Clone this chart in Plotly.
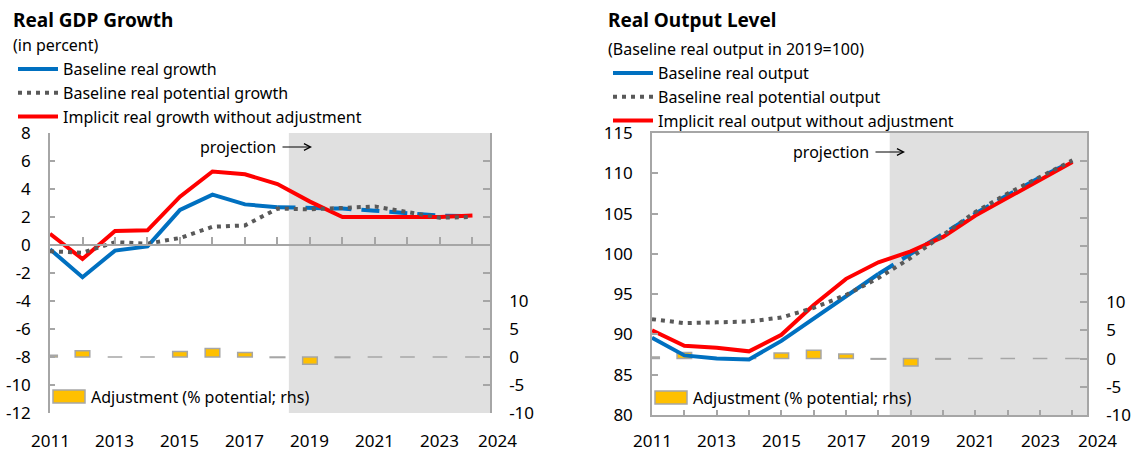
import plotly.graph_objects as go

W, H = 1136, 451

years = list(range(2011, 2025))
last_hist_year = 2018
projection_start = 2018.35

# Real GDP growth (in percent)
growth_baseline = [-0.3, -2.3, -0.4, -0.1, 2.5, 3.6, 2.9, 2.7, 2.65, 2.6, 2.45, 2.25, 2.1, 2.05]
growth_potential = [-0.45, -0.55, 0.2, 0.1, 0.5, 1.3, 1.4, 2.6, 2.55, 2.65, 2.75, 2.35, 1.95, 2.0]
growth_no_adj = [0.8, -1.0, 1.0, 1.05, 3.45, 5.25, 5.05, 4.35, 3.1, 2.0, 2.0, 2.0, 2.0, 2.1]

# Real output level (baseline real output in 2019 = 100)
level_baseline = [89.6, 87.4, 87.0, 86.9, 89.2, 92.0, 94.75, 97.5, 100.0, 102.5, 105.0, 107.3, 109.5, 111.5]
level_potential = [91.9, 91.4, 91.5, 91.6, 92.1, 93.3, 94.9, 97.0, 99.5, 102.4, 105.2, 107.5, 109.6, 111.6]
level_no_adj = [90.5, 88.6, 88.35, 87.9, 89.95, 93.65, 96.9, 98.95, 100.3, 102.1, 104.75, 107.0, 109.25, 111.4]

# Adjustment (% potential; rhs) - same series in both panels
adjustment = [0.3, 1.1, 0.0, 0.0, 1.0, 1.5, 0.8, -0.1, -1.3, -0.1, 0.0, 0.0, 0.0, 0.0]

# tick labels
year_labels = ['2011', '2013', '2015', '2017', '2019', '2021', '2023', '2024']
growth_ticks = [-12, -10, -8, -6, -4, -2, 0, 2, 4, 6, 8]
level_ticks = [80, 85, 90, 95, 100, 105, 110, 115]
rhs_ticks = [-10, -5, 0, 5, 10, 15, 20, 25, 30, 35, 40]
rhs_labels = ['-10', '-5', '0', '5', '10', '', '', '', '', '', '']

growth_names = ['Baseline real growth', 'Baseline real potential growth',
                'Implicit real growth without adjustment']
level_names = ['Baseline real output', 'Baseline real potential output',
               'Implicit real output without adjustment']

BLUE = '#0070C0'
RED = '#FF0000'
DOTS = '#595959'
AXIS = '#A6A6A6'
SHADE = '#E0E0E0'
GOLD = '#FFC000'
FONT = 'Noto Sans'


def px(x):
    return x / W


def py(y):
    return 1 - y / H


fig = go.Figure()


def add_panel(xa, ya_bar, ya_line, legend, base, potential, no_adj, names):
    hist = years.index(last_hist_year) + 1
    # adjustment bars first so the lines sit on top
    fig.add_trace(go.Bar(
        x=years, y=adjustment, xaxis=xa, yaxis=ya_bar, width=0.45,
        marker=dict(color=GOLD, line=dict(color=AXIS, width=1.5)),
        showlegend=False, name='Adjustment (% potential; rhs)'
    ))
    fig.add_trace(go.Scatter(
        x=years[:hist], y=base[:hist], mode='lines', name=names[0],
        line=dict(color=BLUE, width=4), xaxis=xa, yaxis=ya_line,
        legend=legend, legendrank=1
    ))
    # projection part of the baseline is dashed
    fig.add_trace(go.Scatter(
        x=years[hist - 1:], y=base[hist - 1:], mode='lines', name=names[0],
        line=dict(color=BLUE, width=4, dash='18px,10px'), xaxis=xa, yaxis=ya_line,
        legend=legend, showlegend=False
    ))
    fig.add_trace(go.Scatter(
        x=years, y=no_adj, mode='lines', name=names[2],
        line=dict(color=RED, width=4), xaxis=xa, yaxis=ya_line,
        legend=legend, legendrank=3
    ))
    fig.add_trace(go.Scatter(
        x=years, y=potential, mode='lines', name=names[1],
        line=dict(color=DOTS, width=4, dash='4px,5px'), xaxis=xa, yaxis=ya_line,
        legend=legend, legendrank=2
    ))


add_panel('x', 'y', 'y2', 'legend', growth_baseline, growth_potential, growth_no_adj, growth_names)
add_panel('x2', 'y3', 'y4', 'legend2', level_baseline, level_potential, level_no_adj, level_names)

axis_style = dict(showgrid=False, zeroline=False, showline=True, linecolor=AXIS, linewidth=1.5,
                  ticks='inside', tickcolor=AXIS, tickwidth=1.5, automargin=False,
                  tickfont=dict(size=17, color='black'))

left_dom_y = [py(413), py(133)]
right_dom_y = [py(415), py(133)]
zero_pos = left_dom_y[0] + (0 - (-12)) / 20 * (left_dom_y[1] - left_dom_y[0])

fig.update_layout(
    xaxis=dict(domain=[px(50), px(490)], range=[2011, 2024.54], anchor='free', position=zero_pos,
               tickvals=years, showticklabels=False, ticklen=7, **axis_style),
    yaxis=dict(domain=left_dom_y, range=[-10, 40], side='right', anchor='x',
               tickvals=rhs_ticks, ticktext=rhs_labels, ticklen=7, ticklabelstandoff=14, **axis_style),
    yaxis2=dict(overlaying='y', side='left', anchor='x', range=[-12, 8],
                tickvals=growth_ticks, ticktext=[str(v) for v in growth_ticks],
                ticklen=5, ticklabelstandoff=14, **axis_style),
    xaxis2=dict(domain=[px(652), px(1087)], range=[2011, 2024.45], anchor='y3', mirror=True,
                tickvals=years, showticklabels=False, ticklen=5, **axis_style),
    yaxis3=dict(domain=right_dom_y, range=[-10, 40], side='right', anchor='x2',
                tickvals=rhs_ticks, ticktext=rhs_labels, ticklen=7, ticklabelstandoff=14, **axis_style),
    yaxis4=dict(overlaying='y3', side='left', anchor='x2', range=[80, 115],
                tickvals=level_ticks, ticktext=[str(v) for v in level_ticks],
                ticklen=6, ticklabelstandoff=14, **axis_style),
)

legend_style = dict(xanchor='left', yanchor='top', bgcolor='rgba(0,0,0,0)',
                    font=dict(family=FONT, size=16, color='black'),
                    traceorder='normal', tracegroupgap=0, itemwidth=40)
fig.update_layout(
    legend=dict(x=px(13), y=py(52), **legend_style),
    legend2=dict(x=px(608), y=py(56), **legend_style),
)

# projection shading
fig.add_shape(type='rect', xref='x', yref='paper', x0=projection_start, x1=2024.54,
              y0=left_dom_y[0], y1=left_dom_y[1], fillcolor=SHADE, line_width=0, layer='below')
fig.add_shape(type='rect', xref='x2', yref='paper', x0=projection_start, x1=2024.45,
              y0=right_dom_y[0], y1=right_dom_y[1], fillcolor=SHADE, line_width=0, layer='below')

annotations = []


def text(x, y, s, size=16, bold=False):
    annotations.append(dict(
        x=px(x), y=py(y), xref='paper', yref='paper', xanchor='left', yanchor='middle',
        text='<b>%s</b>' % s if bold else s, showarrow=False,
        font=dict(family=FONT, size=size, color='black')
    ))


text(11, 20, 'Real GDP Growth', size=19, bold=True)
text(11, 45, '(in percent)')
text(606, 20, 'Real Output Level', size=19, bold=True)
text(606, 49, '(Baseline real output in 2019=100)')

# "projection ->" markers
for head_x, head_y in [(312, 147), (905, 152)]:
    annotations.append(dict(
        x=px(head_x), y=py(head_y), xref='paper', yref='paper', text='projection',
        showarrow=True, ax=-74, ay=0, arrowhead=5, arrowsize=1.3, arrowwidth=1,
        arrowcolor='black', startstandoff=5,
        font=dict(family=FONT, size=16, color='black')
    ))

# year labels under each panel
for xa, yy in [('x', 440), ('x2', 440)]:
    for lab in year_labels:
        shift = 25 if lab == year_labels[-1] else 0
        annotations.append(dict(
            x=int(lab), y=py(yy), xref=xa, yref='paper', text=lab, showarrow=False,
            xshift=shift, xanchor='center', yanchor='middle', borderpad=0,
            font=dict(family=FONT, size=17, color='black')
        ))

# adjustment key
for x0, y0 in [(53, 390), (655, 391)]:
    fig.add_shape(type='rect', xref='paper', yref='paper', x0=px(x0), x1=px(x0 + 32),
                  y0=py(y0 + 13), y1=py(y0), fillcolor=GOLD, line=dict(color=AXIS, width=1.5))
    text(x0 + 36, y0 + 7, 'Adjustment (% potential; rhs)')

fig.update_layout(
    annotations=annotations,
    width=W, height=H, autosize=False,
    margin=dict(l=0, r=0, t=0, b=0),
    paper_bgcolor='white', plot_bgcolor='white',
    font=dict(family=FONT, size=16, color='black'),
    barmode='overlay', hovermode=False,
)

# drop the browser's default body margin so the figure sits at the page origin
fig.write_html("out.html", config={'displayModeBar': False},
               post_script="document.body.style.margin='0';")
